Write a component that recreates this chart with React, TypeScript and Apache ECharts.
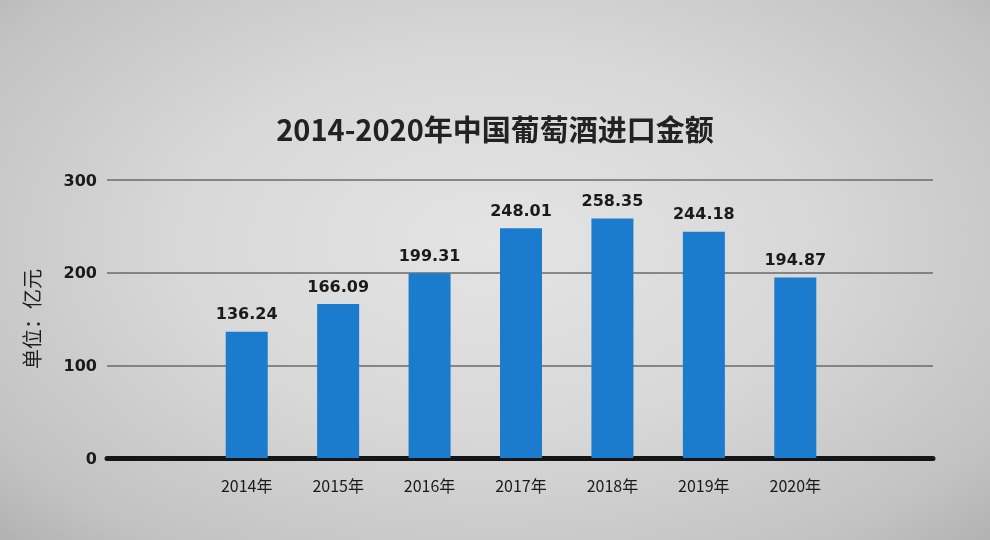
import React, { useEffect, useRef } from "react";
import * as echarts from "echarts";

const categories = ["2014年", "2015年", "2016年", "2017年", "2018年", "2019年", "2020年"];
const values = [136.24, 166.09, 199.31, 248.01, 258.35, 244.18, 194.87];
const yTicks = [0, 100, 200, 300];
const titleText = "2014-2020年中国葡萄酒进口金额";
const unitText = "单位：亿元";

export default function App() {
  const ref = useRef<HTMLDivElement>(null);
  useEffect(() => {
    if (!ref.current) return;
    const chart = echarts.init(ref.current, null, { renderer: "svg" });
    const cjk = '"Noto Sans CJK SC", "Noto Sans", sans-serif';
    const num = '"DejaVu Sans", "Open Sans", sans-serif';
    chart.setOption({
      animation: false,
      backgroundColor: "transparent",
      title: {
        text: titleText,
        left: 490,
        top: 108,
        textAlign: "center",
        textStyle: { fontFamily: cjk, fontSize: 29, fontWeight: "bold", color: "#222222" },
      },
      grid: [
        { left: 107, right: 57, top: 180, bottom: 82 },
        { left: 201, right: 149, top: 180, bottom: 82 },
      ],
      xAxis: [
        {
          gridIndex: 0,
          type: "value",
          min: 0,
          max: 1,
          axisLine: { show: true, onZero: false, lineStyle: { color: "#151515", width: 5 } },
          axisTick: { show: false },
          axisLabel: { show: false },
          splitLine: { show: false },
        },
        {
          gridIndex: 1,
          type: "category",
          data: categories,
          axisLine: { show: false },
          axisTick: { show: false },
          axisLabel: {
            margin: 19,
            fontFamily: cjk,
            fontSize: 16,
            color: "#1a1a1a",
          },
        },
      ],
      yAxis: [
        {
          gridIndex: 0,
          type: "value",
          min: 0,
          max: 300,
          interval: 100,
          name: unitText,
          nameLocation: "middle",
          nameGap: 66,
          nameRotate: 90,
          nameTextStyle: { fontFamily: cjk, fontSize: 20, color: "#1f1f1f" },
          axisLine: { show: false },
          axisTick: { show: false },
          axisLabel: {
            margin: 10,
            fontFamily: num,
            fontWeight: "bold",
            fontSize: 16,
            color: "#1a1a1a",
            formatter: (v: number) => (yTicks.includes(v) ? String(v) : ""),
          },
          splitLine: { show: true, lineStyle: { color: "#6a6a6a", width: 1.5 } },
        },
        {
          gridIndex: 1,
          type: "value",
          min: 0,
          max: 300,
          interval: 100,
          show: false,
          splitLine: { show: false },
        },
      ],
      series: [
        {
          type: "bar",
          xAxisIndex: 1,
          yAxisIndex: 1,
          data: values,
          barWidth: 42,
          itemStyle: { color: "#1b7bcc" },
          z: 1,
          label: {
            show: true,
            position: "top",
            distance: 10,
            fontFamily: num,
            fontWeight: "bold",
            fontSize: 16,
            color: "#1a1a1a",
            formatter: (p: any) => p.value.toFixed(2),
          },
        },
      ],
    });
    return () => chart.dispose();
  }, []);
  return (
    <div
      style={{
        position: "fixed",
        left: 0,
        top: 0,
        width: 990,
        height: 540,
        background:
          "radial-gradient(ellipse at 50% 45%, #e4e4e4 0%, #d8d8d8 45%, #c2c2c2 85%, #b2b2b2 100%)",
      }}
    >
      <div ref={ref} style={{ width: 990, height: 540 }} />
    </div>
  );
}
